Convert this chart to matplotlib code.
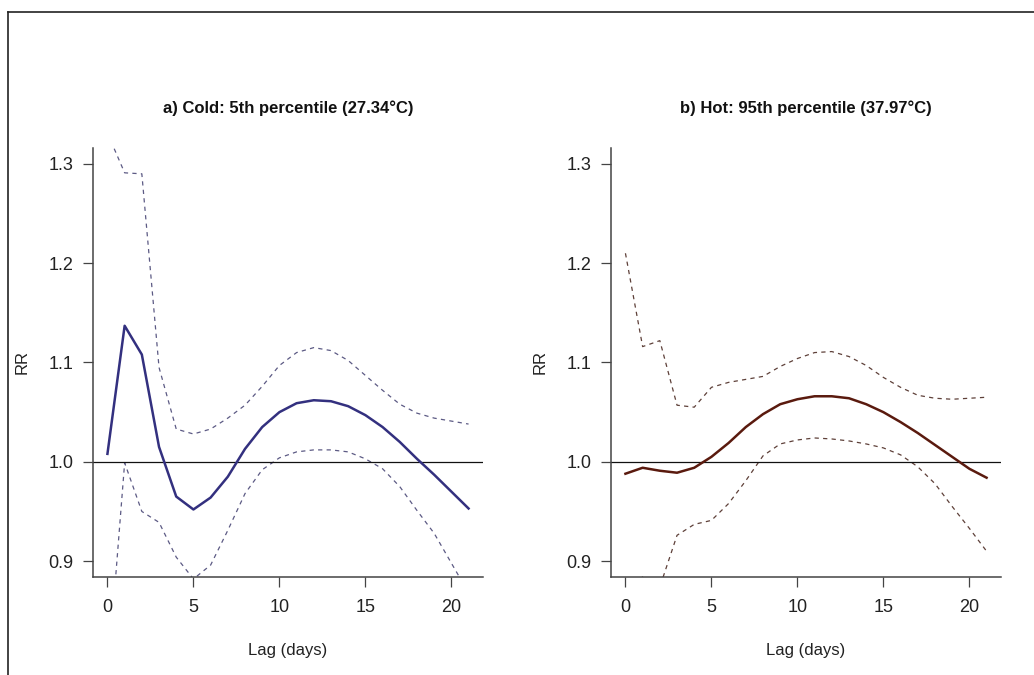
import matplotlib.pyplot as plt
from matplotlib.lines import Line2D

plt.rcParams['font.family'] = ['Liberation Sans', 'DejaVu Sans']

lags = list(range(22))

# cold effect (5th percentile) with 95% CI
cold_rr = [1.008, 1.137, 1.108, 1.015, 0.965, 0.952, 0.964, 0.985, 1.013, 1.035,
           1.050, 1.059, 1.062, 1.061, 1.056, 1.047, 1.035, 1.020, 1.003, 0.987,
           0.970, 0.953]
cold_hi = [1.331, 1.291, 1.290, 1.095, 1.033, 1.028, 1.033, 1.044, 1.057, 1.076,
           1.097, 1.110, 1.115, 1.112, 1.102, 1.087, 1.072, 1.058, 1.049, 1.044,
           1.041, 1.038]
cold_lo = [0.779, 0.999, 0.950, 0.939, 0.904, 0.882, 0.896, 0.931, 0.968, 0.992,
           1.004, 1.010, 1.012, 1.012, 1.010, 1.003, 0.993, 0.975, 0.951, 0.928,
           0.898, 0.868]

# hot effect (95th percentile) with 95% CI
hot_rr = [0.988, 0.994, 0.991, 0.989, 0.994, 1.005, 1.019, 1.035, 1.048, 1.058,
          1.063, 1.066, 1.066, 1.064, 1.058, 1.050, 1.040, 1.029, 1.017, 1.005,
          0.993, 0.984]
hot_hi = [1.210, 1.116, 1.122, 1.057, 1.055, 1.075, 1.080, 1.083, 1.086, 1.096,
          1.104, 1.110, 1.111, 1.106, 1.097, 1.085, 1.075, 1.067, 1.064, 1.063,
          1.064, 1.065]
hot_lo = [0.872, 0.884, 0.874, 0.926, 0.937, 0.941, 0.958, 0.981, 1.006, 1.018,
          1.022, 1.024, 1.023, 1.021, 1.018, 1.014, 1.007, 0.995, 0.978, 0.955,
          0.933, 0.910]

x_ticks = [0, 5, 10, 15, 20]
y_ticks = [0.9, 1.0, 1.1, 1.2, 1.3]

panels = [
    ('a) Cold: 5th percentile (27.34°C)', cold_rr, cold_hi, cold_lo, '#33307f', '#5c5a84'),
    ('b) Hot: 95th percentile (37.97°C)', hot_rr, hot_hi, hot_lo, '#5a1a0e', '#5e4039'),
]

fig = plt.figure(figsize=(10.34, 6.75), dpi=100)

# outer frame (top and left edges)
fig.add_artist(Line2D([8 / 1034, 1.0], [1 - 12 / 675, 1 - 12 / 675],
                      transform=fig.transFigure, color='#222222', lw=1.2))
fig.add_artist(Line2D([8 / 1034, 8 / 1034], [1 - 12 / 675, 0.0],
                      transform=fig.transFigure, color='#222222', lw=1.2))

lefts = [93 / 1034, 611 / 1034]
for left, (title, rr, hi, lo, col, ci_col) in zip(lefts, panels):
    ax = fig.add_axes([left, 1 - 577 / 675, 390 / 1034, 429 / 675])
    ax.plot(lags, hi, color=ci_col, lw=0.9, dashes=(3.4, 3.4))
    ax.plot(lags, lo, color=ci_col, lw=0.9, dashes=(3.4, 3.4))
    ax.axhline(1.0, color='#111111', lw=0.9)
    ax.plot(lags, rr, color=col, lw=1.8)

    ax.set_xlim(-0.84, 21.84)
    ax.set_ylim(0.884, 1.316)
    ax.set_xticks(x_ticks)
    ax.set_yticks(y_ticks)
    ax.set_yticklabels([f'{v:.1f}' for v in y_ticks])

    for side in ['top', 'right']:
        ax.spines[side].set_visible(False)
    for side in ['left', 'bottom']:
        ax.spines[side].set_color('#444444')
        ax.spines[side].set_linewidth(1.1)
    ax.tick_params(axis='both', direction='out', length=7.2, width=0.9,
                   color='#444444', labelsize=13, labelcolor='#222222')
    ax.tick_params(axis='x', pad=9.0)
    ax.tick_params(axis='y', pad=7.0)

    ax.set_title(title, fontsize=12, fontweight='bold', pad=25, color='#111111')
    ax.set_xlabel('Lag (days)', fontsize=12, color='#222222')
    ax.set_ylabel('RR', fontsize=12, color='#222222')
    ax.xaxis.set_label_coords(0.5, -0.154)
    ax.yaxis.set_label_coords(-0.1615, 0.5)

fig.savefig('out.png', dpi=100)
